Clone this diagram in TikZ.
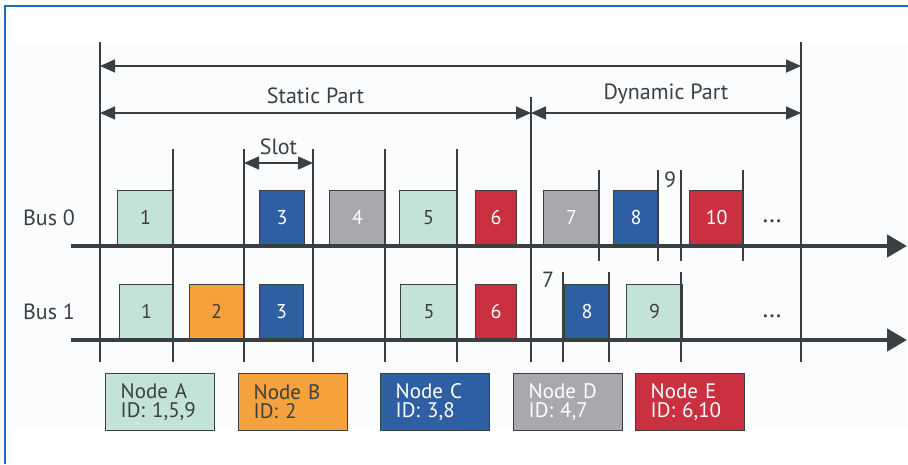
\documentclass[tikz,border=0pt]{standalone}
\usepackage{fontspec}
\setmainfont{PT Sans}
\usepackage{tikz}
\usetikzlibrary{arrows.meta}
\usetikzlibrary{positioning}
\usepackage{xcolor}
\definecolor{ink}{HTML}{3C3F42}
\definecolor{frameblue}{HTML}{1C6DC2}
\definecolor{paper}{HTML}{FAFCFD}
\definecolor{colA}{HTML}{C3E2D8}
\definecolor{colB}{HTML}{F5A23C}
\definecolor{colC}{HTML}{2E5FA3}
\definecolor{colD}{HTML}{A7A9AC}
\definecolor{colE}{HTML}{CB3040}
\tikzset{
        slotbox/.style={
          draw=ink, line width=1.3pt, anchor=south west,
          minimum height=55pt, inner sep=0pt,
          font=\fontsize{20}{20}\selectfont
          },
        legendbox/.style={
          draw=ink, line width=1.3pt, anchor=north west,
          minimum height=57pt, text width=79pt, inner xsep=15pt, inner ysep=0pt,
          align=left, font=\fontsize{21}{19}\selectfont
          },
        idA/.style={fill=colA, text=ink},
        idB/.style={fill=colB, text=ink},
        idC/.style={fill=colC, text=white},
        idD/.style={fill=colD, text=white},
        idE/.style={fill=colE, text=white},
        slotline/.style={draw=ink, line width=2pt},
        bus/.style={draw=ink, line width=4.5pt, -{Triangle[length=20pt, width=22pt]}},
        dimarrow/.style={draw=ink, line width=1.6pt,
          {Triangle[length=15pt, width=13pt]}-{Triangle[length=15pt, width=13pt]}},
        txt/.style={text=ink, font=\fontsize{22}{22}\selectfont},
        more/.style={text=ink, font=\fontsize{26}{26}\selectfont},
}

\begin{document}
\begin{tikzpicture}[x=1pt, y=-1pt]
      \useasboundingbox (0,0) rectangle (908,464);
      % \draw[help lines, dashed] (0,0) grid[step=50] (908,464);
      % FRAME AND BACKGROUND
      \fill[paper] (13,42) rectangle (907,430);
      \draw[frameblue, line width=2pt] (5,464) -- (5,6) -- (908,6);

      % BUS 0 SLOTS
      \node[slotbox, idA, minimum width=56pt] (b0s1)  at (117,246) {1};
      \node[slotbox, idC, minimum width=45pt] (b0s3)  at (259,246) {3};
      \node[slotbox, idD, minimum width=56pt] (b0s4)  at (329,246) {4};
      \node[slotbox, idA, minimum width=58pt] (b0s5)  at (399,246) {5};
      \node[slotbox, idE, minimum width=41pt] (b0s6)  at (475,246) {6};
      \node[slotbox, idD, minimum width=56pt] (b0s7)  at (543,246) {7};
      \node[slotbox, idC, minimum width=45pt] (b0s8)  at (613,246) {8};
      \node[slotbox, idE, minimum width=54pt] (b0s10) at (689,246) {10};
      \node[more] (b0more) at (772,221) {\dots};
      \node[txt] (b0nine) at (670,180) {9};

      % BUS 1 SLOTS
      \node[slotbox, idA, minimum width=54pt] (b1s1) at (119,340) {1};
      \node[slotbox, idB, minimum width=54pt] (b1s2) at (189,340) {2};
      \node[slotbox, idC, minimum width=44pt] (b1s3) at (259,340) {3};
      \node[slotbox, idA, minimum width=57pt] (b1s5) at (400,340) {5};
      \node[slotbox, idE, minimum width=41pt] (b1s6) at (475,340) {6};
      \node[slotbox, idC, minimum width=45pt] (b1s8) at (564,340) {8};
      \node[slotbox, idA, minimum width=56pt] (b1s9) at (626,340) {9};
      \node[more] (b1more)  at (772,316) {\dots};
      \node[txt] (b1seven) at (548,280) {7};

      % BUS LABELS
      \node[txt] (bus0) at (49,218) {Bus 0};
      \node[txt] (bus1) at (49,312) {Bus 1};

      % SLOT BOUNDARIES
      \draw[slotline] (100,42)  coordinate(v0t)  -- (100,362) coordinate(v0b);
      \draw[slotline] (173,149) coordinate(v1t)  -- (173,362) coordinate(v1b);
      \draw[slotline] (244,149) coordinate(v2t)  -- (244,362) coordinate(v2b);
      \draw[slotline] (313,149) coordinate(v3t)  -- (313,362) coordinate(v3b);
      \draw[slotline] (385,149) coordinate(v4t)  -- (385,362) coordinate(v4b);
      \draw[slotline] (457,149) coordinate(v5t)  -- (457,362) coordinate(v5b);
      \draw[slotline] (531,97)  coordinate(v6t)  -- (531,362) coordinate(v6b);
      \draw[slotline] (801,42)  coordinate(v11t) -- (801,362) coordinate(v11b);
      % minislots on bus 0
      \draw[slotline] (599,170) coordinate(m0a) -- (599,261);
      \draw[slotline] (658,170) coordinate(m0b) -- (658,261);
      \draw[slotline] (681,170) coordinate(m0c) -- (681,261);
      \draw[slotline] (743,170) coordinate(m0d) -- (743,261);
      % minislots on bus 1
      \draw[slotline] (563,272) coordinate(m1a) -- (563,362);
      \draw[slotline] (609,272) coordinate(m1b) -- (609,362);
      \draw[slotline] (681,272) coordinate(m1c) -- (681,362);

      % BUS LINES
      \draw[bus] (71,246) coordinate(bus0l) -- (907,246) coordinate(bus0r);
      \draw[bus] (71,340) coordinate(bus1l) -- (907,340) coordinate(bus1r);

      % CYCLE ARROWS
      \draw[dimarrow] (v0t |- 0,66) -- (v11t |- 0,66);
      \draw[dimarrow] (v0t |- 0,113) coordinate(stl) -- (v6t |- 0,113) coordinate(str)
        node[midway, txt, above=5pt] (static) {Static Part};
      \draw[dimarrow] (v6t |- 0,113) coordinate(dyl) -- (v11t |- 0,113) coordinate(dyr)
        node[midway, txt, above=5pt] (dynamic) {Dynamic Part};
      \draw[dimarrow] (v2t |- 0,163) -- (v3t |- 0,163)
        node[midway, txt, above=4pt] (slot) {Slot};

      % LEGEND
      \node[legendbox, idA] (nodeA) at (105,373) {Node A\\ID: 1,5,9};
      \node[legendbox, idB] (nodeB) at (238,373) {Node B\\ID: 2};
      \node[legendbox, idC] (nodeC) at (380,373) {Node C\\ID: 3,8};
      \node[legendbox, idD] (nodeD) at (513,373) {Node D\\ID: 4,7};
      \node[legendbox, idE] (nodeE) at (635,373) {Node E\\ID: 6,10};
\end{tikzpicture}
\end{document}
